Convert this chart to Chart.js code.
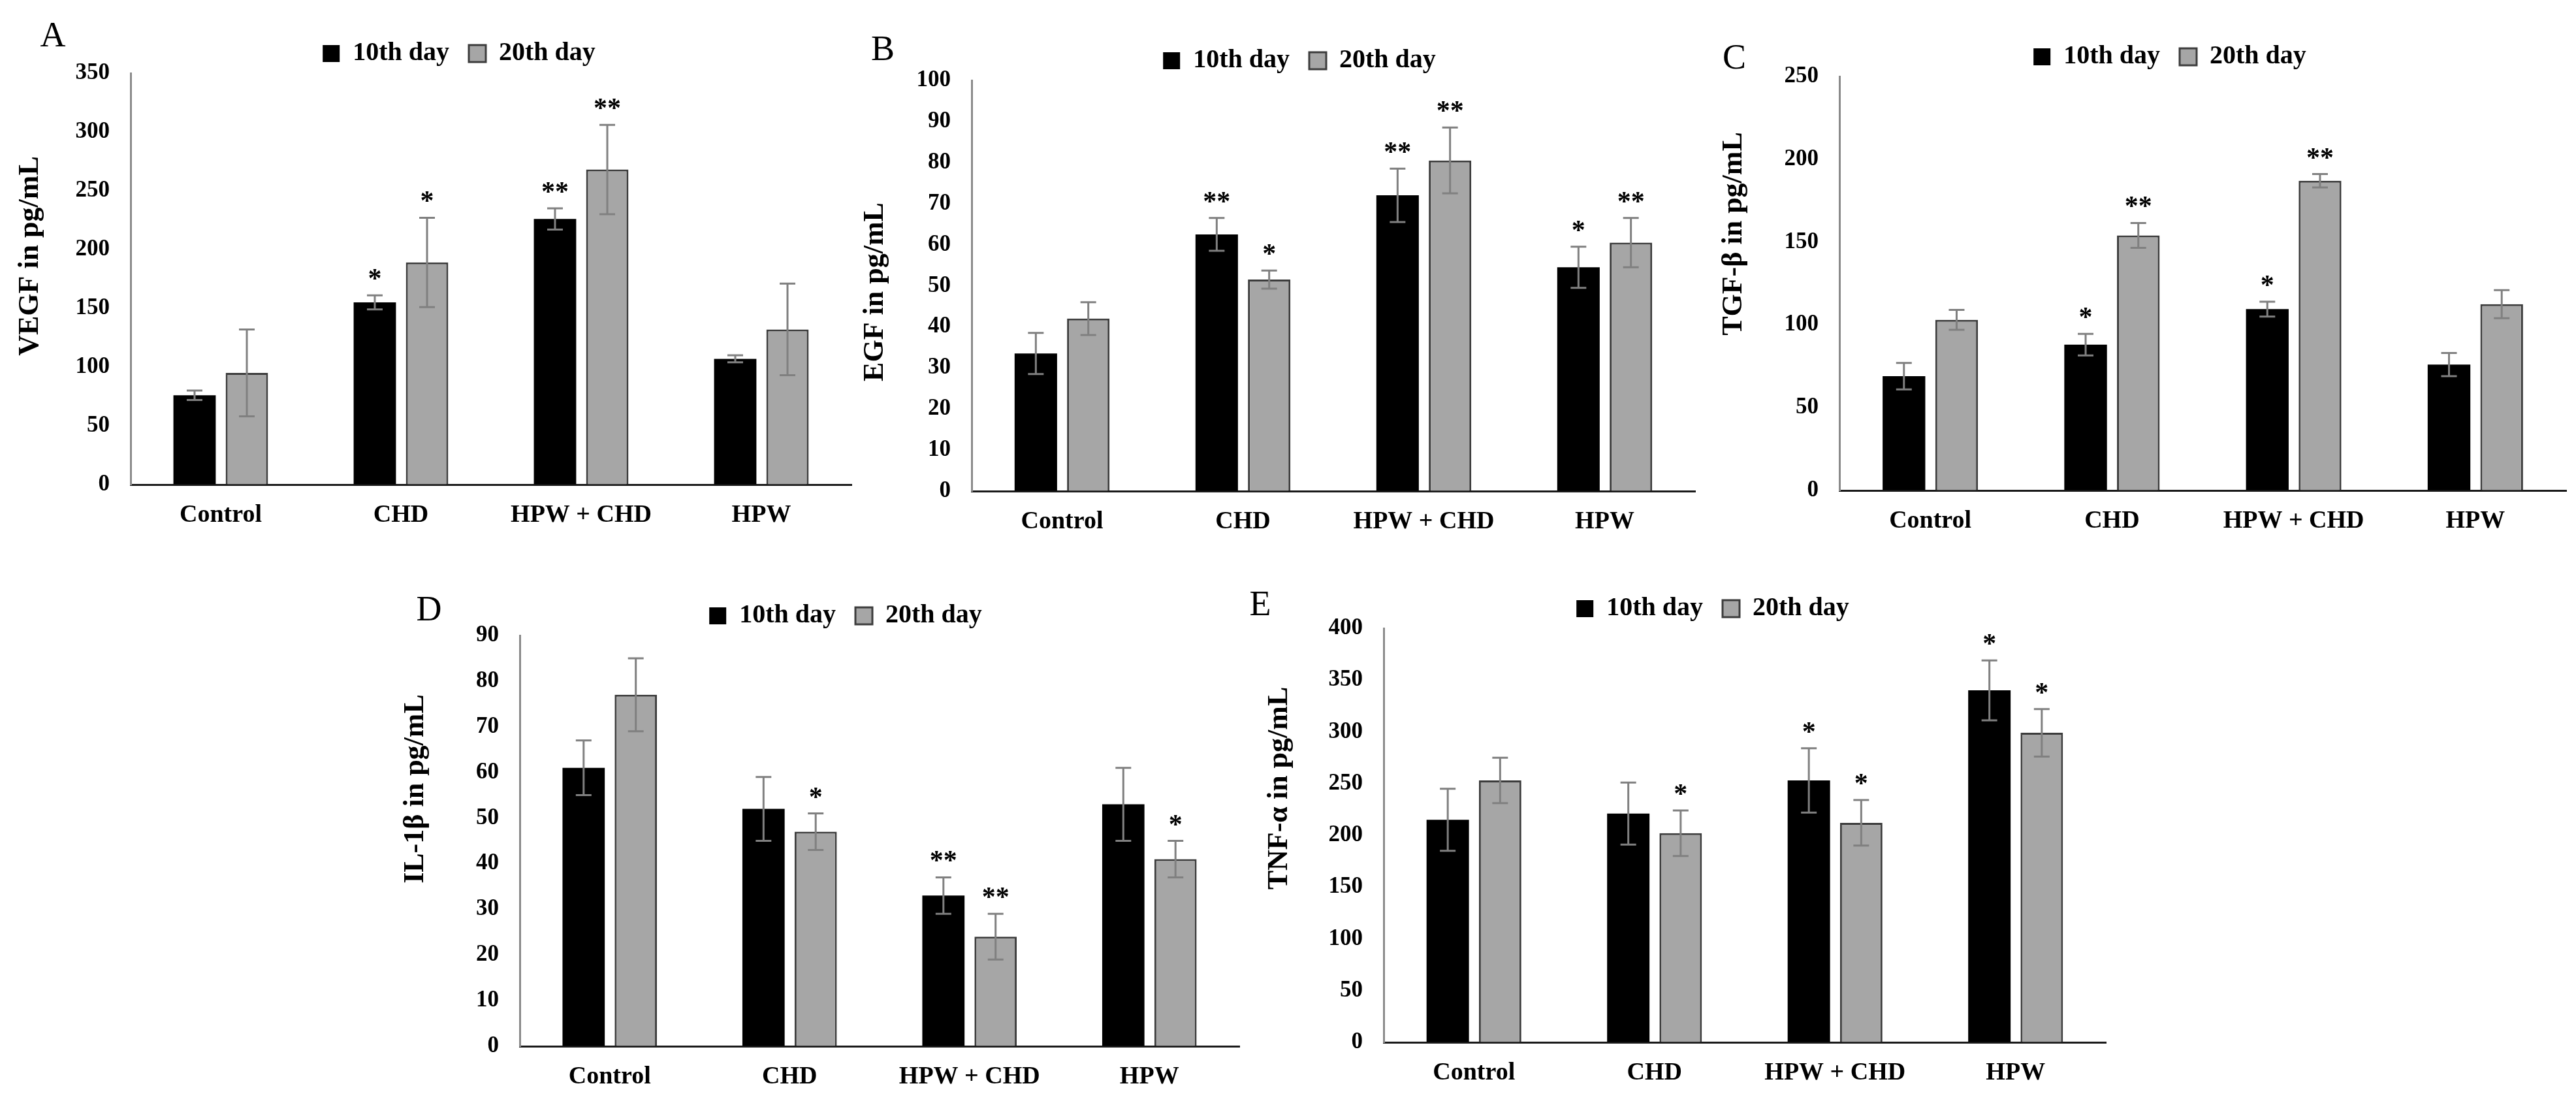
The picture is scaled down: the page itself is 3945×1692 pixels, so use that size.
<!DOCTYPE html>
<html>
<head>
<meta charset="utf-8">
<script src="https://cdn.jsdelivr.net/npm/chart.js@4.4.0/dist/chart.umd.min.js"></script>
<style>
  html, body { margin: 0; padding: 0; background: #fff; }
  body { width: 3945px; height: 1692px; position: relative; overflow: hidden; }
  .panel { position: absolute; }
</style>
</head>
<body>
<div class="panel" id="boxA"><canvas id="chartA"></canvas></div>
<div class="panel" id="boxB"><canvas id="chartB"></canvas></div>
<div class="panel" id="boxC"><canvas id="chartC"></canvas></div>
<div class="panel" id="boxD"><canvas id="chartD"></canvas></div>
<div class="panel" id="boxE"><canvas id="chartE"></canvas></div>
<script>
const categories = ["Control", "CHD", "HPW + CHD", "HPW"];
const seriesNames = ["10th day", "20th day"];

// A - VEGF
const vegf10 = [76, 155, 226, 107];
const vegf10Err = [4, 6, 9, 3];
const vegf10Sig = ["", "*", "**", ""];
const vegf20 = [95, 189, 268, 132];
const vegf20Err = [37, 38, 38, 39];
const vegf20Sig = ["", "*", "**", ""];

// B - EGF
const egf10 = [33.5, 62.5, 72, 54.5];
const egf10Err = [5, 4, 6.5, 5];
const egf10Sig = ["", "**", "**", "*"];
const egf20 = [42, 51.5, 80.5, 60.5];
const egf20Err = [4, 2.2, 8, 6];
const egf20Sig = ["", "*", "**", "**"];

// C - TGF-beta
const tgf10 = [69, 88, 109.5, 76];
const tgf10Err = [8, 6.5, 4.5, 7];
const tgf10Sig = ["", "*", "*", ""];
const tgf20 = [103, 154, 187, 112.5];
const tgf20Err = [6, 7.5, 4, 8.5];
const tgf20Sig = ["", "**", "**", ""];

// D - IL-1beta
const il10 = [61, 52, 33, 53];
const il10Err = [6, 7, 4, 8];
const il10Sig = ["", "", "**", ""];
const il20 = [77, 47, 24, 41];
const il20Err = [8, 4, 5, 4];
const il20Sig = ["", "*", "**", "*"];

// E - TNF-alpha
const tnf10 = [215, 221, 253, 340];
const tnf10Err = [30, 30, 31, 29];
const tnf10Sig = ["", "", "*", "*"];
const tnf20 = [253, 202, 212, 299];
const tnf20Err = [22, 22, 22, 23];
const tnf20Sig = ["", "*", "*", "*"];

const yMax = { A: 350, B: 100, C: 250, D: 90, E: 400 };
const yStep = { A: 50, B: 10, C: 50, D: 10, E: 50 };
const yTitles = {
  A: "VEGF in pg/mL",
  B: "EGF in pg/mL",
  C: "TGF-\u03b2 in pg/mL",
  D: "IL-1\u03b2 in pg/mL",
  E: "TNF-\u03b1 in pg/mL"
};

// page layout (pixels on the page)
const layoutOf = {
  A: { L: 0, T: 0, W: 1330, H: 846, axisX: 200, topY: 112, rightX: 1304, zeroY: 742, padL: 102, letter: [81, 57], title: [47, 392] },
  B: { L: 1310, T: 0, W: 1310, H: 846, axisX: 1488, topY: 123, rightX: 2596, zeroY: 752, padL: 74, letter: [1352, 78], title: [1341, 447] },
  C: { L: 2630, T: 0, W: 1315, H: 846, axisX: 2817, topY: 117, rightX: 3930, zeroY: 751, padL: 86, letter: [2656, 91], title: [2656, 358] },
  D: { L: 560, T: 846, W: 1370, H: 846, axisX: 796, topY: 973, rightX: 1898, zeroY: 1602, padL: 132, letter: [657, 936], title: [637, 1208] },
  E: { L: 1900, T: 846, W: 1360, H: 846, axisX: 2119, topY: 962, rightX: 3225, zeroY: 1596, padL: 121, letter: [1930, 928], title: [1960, 1207] }
};

const FONT = "'Liberation Serif', 'Times New Roman', serif";
const LEGEND_FONT = 40;
const LEGEND_PAD = 30;
const X_AXIS_H = 90;

function makePanel(key, d10, e10, s10, d20, e20, s20) {
  const lay = layoutOf[key];
  const box = document.getElementById("box" + key);
  box.style.left = lay.L + "px";
  box.style.top = lay.T + "px";
  box.style.width = lay.W + "px";
  box.style.height = lay.H + "px";

  const legendH = LEGEND_FONT + LEGEND_PAD + 10;

  const extras = {
    id: "extras" + key,
    afterDatasetsDraw(chart) {
      const ctx = chart.ctx;
      const y = chart.scales.y;
      chart.data.datasets.forEach((ds, i) => {
        chart.getDatasetMeta(i).data.forEach((bar, j) => {
          const top = y.getPixelForValue(ds.data[j] + ds.errors[j]);
          const bot = y.getPixelForValue(ds.data[j] - ds.errors[j]);
          ctx.save();
          ctx.strokeStyle = "#808080";
          ctx.lineWidth = 3;
          ctx.beginPath();
          ctx.moveTo(bar.x, top); ctx.lineTo(bar.x, bot);
          ctx.moveTo(bar.x - 12, top); ctx.lineTo(bar.x + 12, top);
          ctx.moveTo(bar.x - 12, bot); ctx.lineTo(bar.x + 12, bot);
          ctx.stroke();
          if (ds.sig[j]) {
            ctx.fillStyle = "#000";
            ctx.font = "bold 42px " + FONT;
            ctx.textAlign = "center";
            ctx.textBaseline = "alphabetic";
            ctx.fillText(ds.sig[j], bar.x, top - 12);
          }
          ctx.restore();
        });
      });
    },
    afterDraw(chart) {
      const ctx = chart.ctx;
      ctx.save();
      ctx.fillStyle = "#000";
      ctx.textAlign = "center";
      ctx.textBaseline = "middle";
      ctx.font = "54px " + FONT;
      ctx.fillText(key, lay.letter[0] - lay.L, lay.letter[1] - lay.T);
      ctx.translate(lay.title[0] - lay.L, lay.title[1] - lay.T);
      ctx.rotate(-Math.PI / 2);
      ctx.font = "bold 44px " + FONT;
      ctx.fillText(yTitles[key], 0, 0);
      ctx.restore();
    }
  };

  new Chart(document.getElementById("chart" + key), {
    type: "bar",
    data: {
      labels: categories,
      datasets: [
        { label: seriesNames[0], data: d10, errors: e10, sig: s10,
          backgroundColor: "#000000", borderWidth: 0 },
        { label: seriesNames[1], data: d20, errors: e20, sig: s20,
          backgroundColor: "#a6a6a6", borderColor: "#3c3c3c", borderWidth: 3 }
      ]
    },
    options: {
      responsive: true,
      maintainAspectRatio: false,
      animation: false,
      categoryPercentage: 0.58,
      barPercentage: 0.81,
      layout: {
        padding: {
          left: lay.padL,
          right: lay.L + lay.W - lay.rightX,
          top: lay.topY - lay.T - legendH,
          bottom: lay.T + lay.H - lay.zeroY - X_AXIS_H
        }
      },
      plugins: {
        legend: {
          position: "top",
          labels: {
            color: "#000",
            font: { family: FONT, size: LEGEND_FONT, weight: "bold" },
            boxWidth: 26,
            boxHeight: 26,
            padding: LEGEND_PAD
          }
        },
        tooltip: { enabled: false }
      },
      scales: {
        x: {
          grid: { drawOnChartArea: false, drawTicks: false },
          border: { color: "#1a1a1a", width: 3 },
          ticks: { color: "#000", padding: 24, font: { family: FONT, size: 38, weight: "bold" } },
          afterFit(s) { s.height = X_AXIS_H; }
        },
        y: {
          min: 0,
          max: yMax[key],
          grid: { drawOnChartArea: false, drawTicks: false },
          border: { color: "#8a8a8a", width: 3 },
          ticks: { stepSize: yStep[key], color: "#000", padding: 32, font: { family: FONT, size: 35, weight: "bold" } },
          afterFit(s) { s.width = lay.axisX - lay.L - lay.padL; }
        }
      }
    },
    plugins: [extras]
  });
}

makePanel("A", vegf10, vegf10Err, vegf10Sig, vegf20, vegf20Err, vegf20Sig);
makePanel("B", egf10, egf10Err, egf10Sig, egf20, egf20Err, egf20Sig);
makePanel("C", tgf10, tgf10Err, tgf10Sig, tgf20, tgf20Err, tgf20Sig);
makePanel("D", il10, il10Err, il10Sig, il20, il20Err, il20Sig);
makePanel("E", tnf10, tnf10Err, tnf10Sig, tnf20, tnf20Err, tnf20Sig);
</script>
</body>
</html>
